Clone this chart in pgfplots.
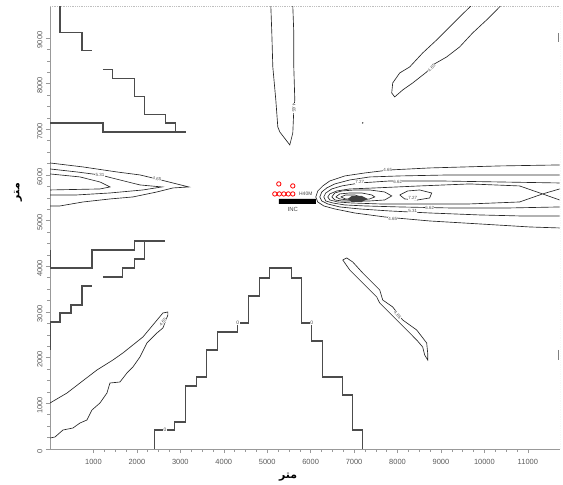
\documentclass[border=0pt]{standalone}
\usepackage{pgfplots}
\pgfplotsset{compat=1.18}
\usepackage{fontspec}
\setmainfont{Liberation Sans}
\newfontfamily\arabicfont[Script=Arabic]{DejaVu Sans}
\TeXXeTstate=1
\pgfplotsset{
  cont/.style={black!85, line width=0.65bp, mark=none},
  stepl/.style={black!70, line width=1.1bp, mark=none},
}
\tikzset{lab/.style={font=\fontsize{4.5}{5}\selectfont, fill=white, inner sep=0.3pt, text=black!70}}
\begin{document}
\begin{tikzpicture}
\begin{axis}[
  at={(0,0)}, anchor=south west,
  scale only axis, width=510bp, height=443bp,
  xmin=0, xmax=11740, ymin=0, ymax=9700,
  axis lines*=left,
  axis line style={draw=black!40, line width=0.6bp},
  xtick={1000,2000,...,11000}, ytick={0,1000,...,9000},
  minor tick num=3,
  tick align=outside,
  major tick length=4bp, minor tick length=2.5bp,
  every tick/.style={black!40, line width=0.5bp},
  scaled ticks=false,
  /pgf/number format/assume math mode=true,
  /pgf/number format/1000 sep={},
  xticklabel style={font=\fontsize{7.5}{8}\selectfont, text=black!65, yshift=-3bp},
  yticklabel style={font=\fontsize{7.5}{8}\selectfont, text=black!65, rotate=90, anchor=south, xshift=-2bp},
  xlabel={\arabicfont\bfseries\beginR متر\endR},
  ylabel={\arabicfont\bfseries\beginR متر\endR},
  label style={font=\fontsize{11}{12}\selectfont},
  xlabel style={at={(axis description cs:0.467,0)}, anchor=center, yshift=-28bp},
  ylabel style={at={(axis description cs:0,0.58)}, anchor=center, yshift=32bp},
]
% frame top/right
\draw[black!25, densely dotted, line width=0.8bp] (rel axis cs:0,1) -- (rel axis cs:1,1) -- (rel axis cs:1,0);

% ---- step lines ----
\addplot[stepl] coordinates {(230,9702)(230,9110)(736,9110)(736,8716)(966,8716)};
\addplot[stepl] coordinates {(1219,8300)(1449,8300)(1449,8103)(1955,8103)(1955,7709)(2185,7709)(2185,7315)(2668,7315)(2668,7139)(2898,7139)(2898,6942)};
\addplot[stepl] coordinates {(0,7139)(1219,7139)(1219,6942)(3128,6942)};
\addplot[stepl] coordinates {(0,4358)(0,3964)(966,3964)(966,4358)(1955,4358)(1955,4555)(2645,4555)};
\addplot[stepl] coordinates {(1219,3767)(1679,3767)(1679,3964)(1955,3964)(1955,4161)(2185,4161)(2185,4555)};
\addplot[stepl] coordinates {(0,2168)(0,2781)(230,2781)(230,2978)(483,2978)(483,3154)(736,3154)(736,3570)(966,3570)};
% pyramid
\addplot[stepl] coordinates {(2415,0)(2415,416)(2875,416)(2875,591)(3128,591)(3128,1380)(3381,1380)(3381,1577)(3611,1577)(3611,2168)(3864,2168)(3864,2562)(4324,2562)(4324,2759)(4577,2759)(4577,3351)(4830,3351)(4830,3745)(5060,3745)(5060,3964)(5566,3964)(5566,3745)(5796,3745)(5796,2759)(6026,2759)(6026,2365)(6279,2365)(6279,1577)(6739,1577)(6739,1183)(6969,1183)(6969,416)(7199,416)(7199,0)};
\node[lab, font=\fontsize{5}{5}\selectfont] at (axis cs:2645,416) {0};
\node[lab, font=\fontsize{5}{5}\selectfont] at (axis cs:4324,2759) {0};
\node[lab, font=\fontsize{5}{5}\selectfont] at (axis cs:6026,2759) {0};

% ---- left contours ----
\addplot[cont] coordinates {(0,6263)(759,6176)(1541,6066)(2070,6001)(2461,5913)(2829,5825)(3197,5738)(2829,5716)(2461,5628)(1909,5519)(1380,5475)(759,5409)(230,5322)(0,5322)};
\addplot[cont] coordinates {(0,6132)(621,6066)(1150,6001)(1610,5891)(2070,5782)(2576,5738)(2139,5672)(1380,5606)(621,5563)(0,5563)};
\addplot[cont] coordinates {(0,6023)(690,5957)(1150,5847)(1380,5738)(1150,5694)(0,5672)};
\node[lab] at (axis cs:1150,6001) {5.31};
\node[lab, rotate=-8] at (axis cs:2461,5913) {4.65};

% ---- lower-left diagonal ----
\addplot[cont] coordinates {(0,1007)(391,1226)(690,1445)(1081,1730)(1449,1949)(1679,2103)(1909,2278)(2139,2453)(2369,2716)(2599,2978)(2714,3000)(2714,2935)(2599,2650)(2461,2540)(2231,2321)(2070,2015)(1909,1796)(1771,1664)(1610,1467)(1380,1445)(1311,1226)(1150,1007)(966,854)(851,635)(690,569)(529,460)(299,416)(115,263)(0,241)};
\node[lab, rotate=50] at (axis cs:2600,2780) {4.65};

% ---- top centre ----
\addplot[cont] coordinates {(5083,9702)(5106,9110)(5129,8366)(5198,7643)(5244,7052)(5290,6942)(5520,6658)(5589,6920)(5612,7424)(5635,7643)(5612,8366)(5612,9110)(5589,9702)};
\node[lab, rotate=-90] at (axis cs:5612,7468) {4.65};

% ---- top right ----
\addplot[cont] coordinates {(9690,9702)(9430,9461)(9131,9176)(8901,8957)(8579,8672)(8280,8366)(8050,8234)(7889,8015)(7866,7796)(7935,7709)(8119,7862)(8349,8015)(8671,8256)(8809,8410)(9131,8585)(9430,8804)(9729,9110)(10051,9395)(10373,9702)};
\node[lab, rotate=45] at (axis cs:8786,8344) {4.65};

% ---- mid right ----
\addplot[cont] coordinates {(6739,4139)(6900,3920)(7061,3767)(7291,3548)(7521,3329)(7590,3197)(7751,3044)(7981,2825)(8211,2606)(8441,2387)(8579,2234)(8625,2059)(8694,1949)(8694,2102)(8671,2321)(8441,2606)(8119,2825)(7889,3110)(7659,3263)(7590,3482)(7429,3635)(7199,3854)(6969,4095)(6831,4183)(6739,4139)};
\node[lab, rotate=-50] at (axis cs:8004,2935) {4.65};

% ---- plume ----
\addplot[cont] coordinates {(11730,6220)(10350,6198)(8740,6154)(7820,6110)(7245,6044)(6785,5979)(6440,5869)(6279,5760)(6164,5650)(6118,5519)(6164,5409)(6302,5322)(6555,5256)(7015,5168)(7705,5081)(8740,4993)(9890,4928)(11040,4862)(11730,4840)};
\addplot[cont] coordinates {(11730,6001)(10810,6001)(9200,6001)(8050,5979)(7360,5957)(6900,5891)(6555,5804)(6371,5716)(6256,5628)(6210,5519)(6256,5431)(6394,5366)(6670,5300)(7130,5256)(7820,5212)(8740,5168)(9890,5125)(10810,5103)(11730,5103)};
\addplot[cont] coordinates {(11730,5825)(10350,5847)(8970,5869)(7820,5869)(7130,5825)(6716,5760)(6486,5694)(6348,5606)(6302,5519)(6348,5431)(6509,5387)(6785,5344)(7245,5322)(8050,5300)(9200,5278)(10580,5278)(11730,5300)};
\addplot[cont] coordinates {(11730,5453)(11339,5585)(10810,5760)(9660,5804)(8510,5760)(7475,5716)(6900,5694)(6601,5650)(6440,5585)(6394,5519)(6440,5453)(6624,5409)(6946,5387)(7590,5366)(8510,5366)(9660,5366)(10810,5409)(11339,5585)(11730,5694)};
\addplot[cont] coordinates {(6486,5519)(6555,5606)(6716,5650)(7015,5672)(7360,5672)(7705,5628)(7866,5541)(7705,5453)(7360,5431)(7015,5431)(6716,5431)(6555,5453)(6486,5519)};
\addplot[cont] coordinates {(6578,5519)(6670,5585)(6900,5606)(7176,5606)(7406,5563)(7475,5519)(7360,5475)(7130,5453)(6854,5453)(6670,5475)(6578,5519)};
\addplot[cont] coordinates {(6693,5519)(6808,5563)(7015,5563)(7153,5519)(7015,5475)(6808,5475)(6693,5519)};
\addplot[cont] coordinates {(8050,5563)(8234,5650)(8510,5672)(8786,5606)(8740,5497)(8464,5453)(8165,5475)(8050,5563)};
\addplot[fill=black!75, draw=none] coordinates {(6854,5475)(6946,5541)(7176,5541)(7314,5475)(7176,5409)(6946,5409)(6854,5475)};
\node[lab] at (axis cs:7774,6110) {4.65};
\node[lab] at (axis cs:8004,5847) {6.62};
\node[lab] at (axis cs:7130,5847) {7.27};
\node[lab] at (axis cs:8349,5497) {7.27};
\node[lab] at (axis cs:8349,5212) {5.31};
\node[lab] at (axis cs:8740,5278) {6.62};
\node[lab] at (axis cs:7889,5037) {4.65};

% ---- source ----
\addplot[fill=black, draw=none] coordinates {(5267,5366)(6118,5366)(6118,5475)(5267,5475)(5267,5366)};
\node[font=\fontsize{6}{6}\selectfont, text=black!75] at (axis cs:5589,5256) {INC};
\node[font=\fontsize{5}{5}\selectfont, text=black!75, inner sep=0pt] at (axis cs:5888,5585) {H40M};
\addplot[only marks, mark=o, mark size=2.2bp, red, line width=0.8bp] coordinates {(5175,5585)(5279,5585)(5382,5585)(5486,5585)(5589,5585)(5267,5804)(5589,5760)};

% ---- misc marks ----
\addplot[black!50, line width=1.2bp] coordinates {(11700,9110)(11700,8913)};
\addplot[black!50, line width=1.2bp] coordinates {(11700,2168)(11700,1949)};
\addplot[only marks, mark=*, mark size=0.5bp, black!70] coordinates {(7199,7139)};
\end{axis}
\pgfresetboundingbox
\path[use as bounding box] (-50bp,-36bp) rectangle (513bp,449bp);
\end{tikzpicture}
\end{document}
